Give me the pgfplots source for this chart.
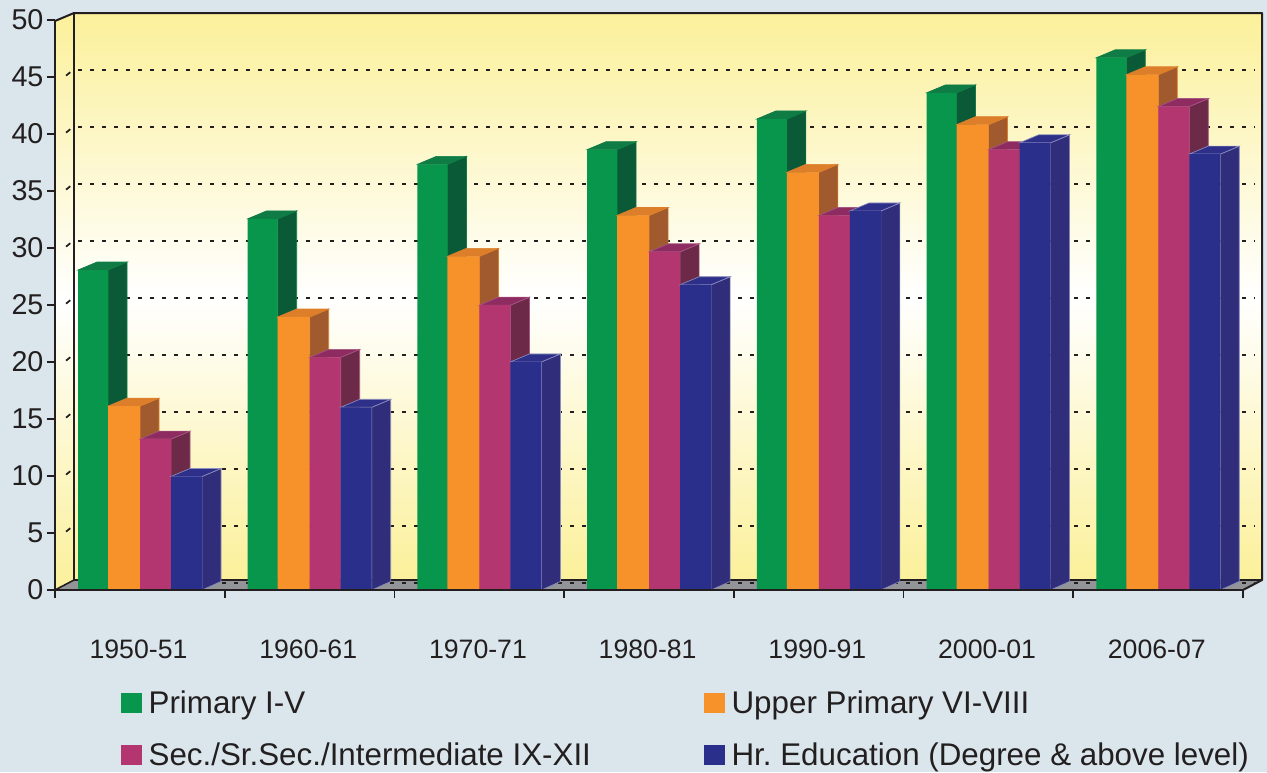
\documentclass[border=0pt]{standalone}
\usepackage{pgfplots}
\usepackage{pgfplotstable}
\usepackage{fontspec}
\setmainfont{Liberation Sans}
\pgfplotsset{compat=1.18}
\definecolor{bgc}{HTML}{DAE6EB}
\definecolor{wallc}{HTML}{FBF09A}
\definecolor{inkc}{HTML}{231F20}
\definecolor{floorc}{HTML}{929497}
\definecolor{gF}{HTML}{07964B}\definecolor{gT}{HTML}{0F7C45}\definecolor{gS}{HTML}{0B5A37}
\definecolor{oF}{HTML}{F7922A}\definecolor{oT}{HTML}{DD7F2A}\definecolor{oS}{HTML}{A05A2E}
\definecolor{mF}{HTML}{B43671}\definecolor{mT}{HTML}{8E2C62}\definecolor{mS}{HTML}{6C2A48}
\definecolor{bF}{HTML}{2B2F8C}\definecolor{bT}{HTML}{2D2F88}\definecolor{bS}{HTML}{302D7B}
\pgfplotstableread{
x v
0.5 28.07
1.5 32.56
2.5 37.34
3.5 38.63
4.5 41.32
5.5 43.61
6.5 46.69
}\tgreen
\pgfplotstableread{
x v
0.5 16.13
1.5 23.95
2.5 29.27
3.5 32.86
4.5 36.64
5.5 40.82
6.5 45.20
}\torange
\pgfplotstableread{
x v
0.5 13.24
1.5 20.41
2.5 24.99
3.5 29.67
4.5 32.86
5.5 38.63
6.5 42.41
}\tmagenta
\pgfplotstableread{
x v
0.5 9.96
1.5 16.03
2.5 20.01
3.5 26.78
4.5 33.25
5.5 39.23
6.5 38.24
}\tblue
% #1 table, #2 left px offset in group, #3 width px, #4 front, #5 top, #6 side, #7 edge
\newcommand\barseries[7]{%
  \pgfplotsforeachungrouped \i in {0,1,2,3,4,5,6}{%
    \pgfplotstablegetelem{\i}{v}\of{#1}%
    \let\vv=\pgfplotsretval
    \pgfmathsetmacro\xl{\i+#2/169.7}%
    \pgfmathsetmacro\xr{\i+(#2+#3)/169.7}%
    \pgfmathsetmacro\xlb{\xl+19/169.7}%
    \pgfmathsetmacro\xrb{\xr+19/169.7}%
    \pgfmathsetmacro\vb{\vv+0.70}%
    \addplot[forget plot,fill=#6,draw=#7,line width=0.5pt] coordinates {(\xr,0)(\xrb,0.75)(\xrb,\vb)(\xr,\vv)} --cycle;
    \addplot[forget plot,fill=#5,draw=#7,line width=0.5pt] coordinates {(\xl,\vv)(\xlb,\vb)(\xrb,\vb)(\xr,\vv)} --cycle;
  }%
  \pgfmathsetmacro\bw{#3*0.75}%
  \pgfmathsetmacro\bs{(#2+#3/2-84.85)*0.75}%
  \edef\doplot{\noexpand\addplot[forget plot,ybar,bar width=\bw pt,bar shift=\bs pt,fill=#4,draw=none] table[x=x,y=v] {\noexpand#1};}%
  \doplot
}
\begin{document}
\begin{tikzpicture}
\begin{scope}[x=0.75pt,y=-0.75pt]
\useasboundingbox (0,0) rectangle (1267,772);
\fill[bgc] (0,0) rectangle (1267,772);
% back and side walls, floor
\shade[top color=wallc,bottom color=wallc,middle color=white] (74,13) rectangle (1262,580);
\shade[top color=wallc,bottom color=wallc,middle color=white] (55,13) rectangle (74,590);
\fill[bgc] (55,13) -- (74,13) -- (55,21) -- cycle;
\fill[bgc] (55,590) -- (55,600) -- (74,600) -- (74,580) -- cycle;
\fill[floorc] (55,590) -- (74,580) -- (1262,580) -- (1243,590) -- cycle;
\draw[inkc,line width=1.5pt,line cap=round,line join=round] (55,21) -- (74,13) -- (1262,13) -- (1262,580) -- (1243,590);
\draw[inkc,line width=1.2pt] (74,13) -- (74,580) -- (1262,580);
\draw[inkc,line width=1.2pt] (55,590) -- (74,580);
\end{scope}
\begin{axis}[
  at={(41.25pt,-442.5pt)}, anchor=south west,
  scale only axis, width=891pt, height=427.5pt,
  xmin=0, xmax=7, ymin=0, ymax=50,
  clip=false, axis on top,
  axis lines=left,
  axis line style={-,draw=inkc,line width=1.5pt},
  tick align=outside,
  tick style={draw=inkc,line width=1.3pt},
  major tick length=6pt,
  minor tick length=6pt,
  ytick={0,5,...,50},
  xtick={0.5,1.5,2.5,3.5,4.5,5.5,6.5},
  xticklabels={1950-51,1960-61,1970-71,1980-81,1990-91,2000-01,2006-07},
  minor xtick={0,1,2,3,4,5,6,7},
  major x tick style={draw=none},
  /pgf/number format/assume math mode=true,
  yticklabel style={font=\fontsize{21.5}{25}\selectfont,text=inkc,inner sep=0pt},
  ytick style={draw=inkc},
  xticklabel style={font=\fontsize{20}{24}\selectfont,text=inkc,yshift=-28pt,xshift=-1pt},
  y tick label style={xshift=-2.5pt},
  legend columns=2,
  legend style={at={(0.0522,-0.1667)},anchor=north west,draw=none,fill=none,
    font=\fontsize{23.5}{28}\selectfont\frenchspacing,text=inkc,
    /tikz/column 2/.style={column sep=83pt},
    /tikz/row sep=16.5pt,
    cells={anchor=west}},
  legend cell align=left,
]
% dotted gridlines on the back wall
\pgfplotsinvokeforeach{0,5,10,15,20,25,30,35,40,45,50}{
  \pgfmathsetmacro\gy{#1+0.614}
  \addplot[forget plot,draw=inkc,line width=2.2pt,dash pattern=on 3pt off 6pt] coordinates {(0.1355,\gy)(7.07,\gy)};
}
\pgfplotsinvokeforeach{5,10,15,20,25,30,35,40,45}{
  \pgfmathsetmacro\ga{#1+0.12}
  \pgfmathsetmacro\gb{#1+0.42}
  \addplot[forget plot,draw=inkc,line width=1.3pt] coordinates {(0.065,\ga)(0.09,\gb)};
}
\barseries{\tgreen}{23}{30}{gF}{gT}{gS}{gT}
\barseries{\torange}{53}{32}{oF}{oT}{oS}{oT}
\barseries{\tmagenta}{85}{31}{mF}{mT}{mS}{mT!80!white}
\barseries{\tblue}{116}{31}{bF}{bT}{bS}{bT!55!white}
\addlegendimage{legend image code/.code={\path[draw=none,fill=none] (0pt,-7.5pt) rectangle (18.5pt,7.5pt);\fill[gF,draw=none] (0pt,-7.5pt) rectangle (15.5pt,7.5pt);}}
\addlegendentry{Primary I-V}
\addlegendimage{legend image code/.code={\path[draw=none,fill=none] (0pt,-7.5pt) rectangle (18.5pt,7.5pt);\fill[oF,draw=none] (0pt,-7.5pt) rectangle (15.5pt,7.5pt);}}
\addlegendentry{Upper Primary VI-VIII}
\addlegendimage{legend image code/.code={\path[draw=none,fill=none] (0pt,-7.5pt) rectangle (18.5pt,7.5pt);\fill[mF,draw=none] (0pt,-7.5pt) rectangle (15.5pt,7.5pt);}}
\addlegendentry{Sec./Sr.Sec./Intermediate IX-XII}
\addlegendimage{legend image code/.code={\path[draw=none,fill=none] (0pt,-7.5pt) rectangle (18.5pt,7.5pt);\fill[bF,draw=none] (0pt,-7.5pt) rectangle (15.5pt,7.5pt);}}
\addlegendentry{Hr. Education (Degree \& above level)}
\end{axis}
\end{tikzpicture}
\end{document}
